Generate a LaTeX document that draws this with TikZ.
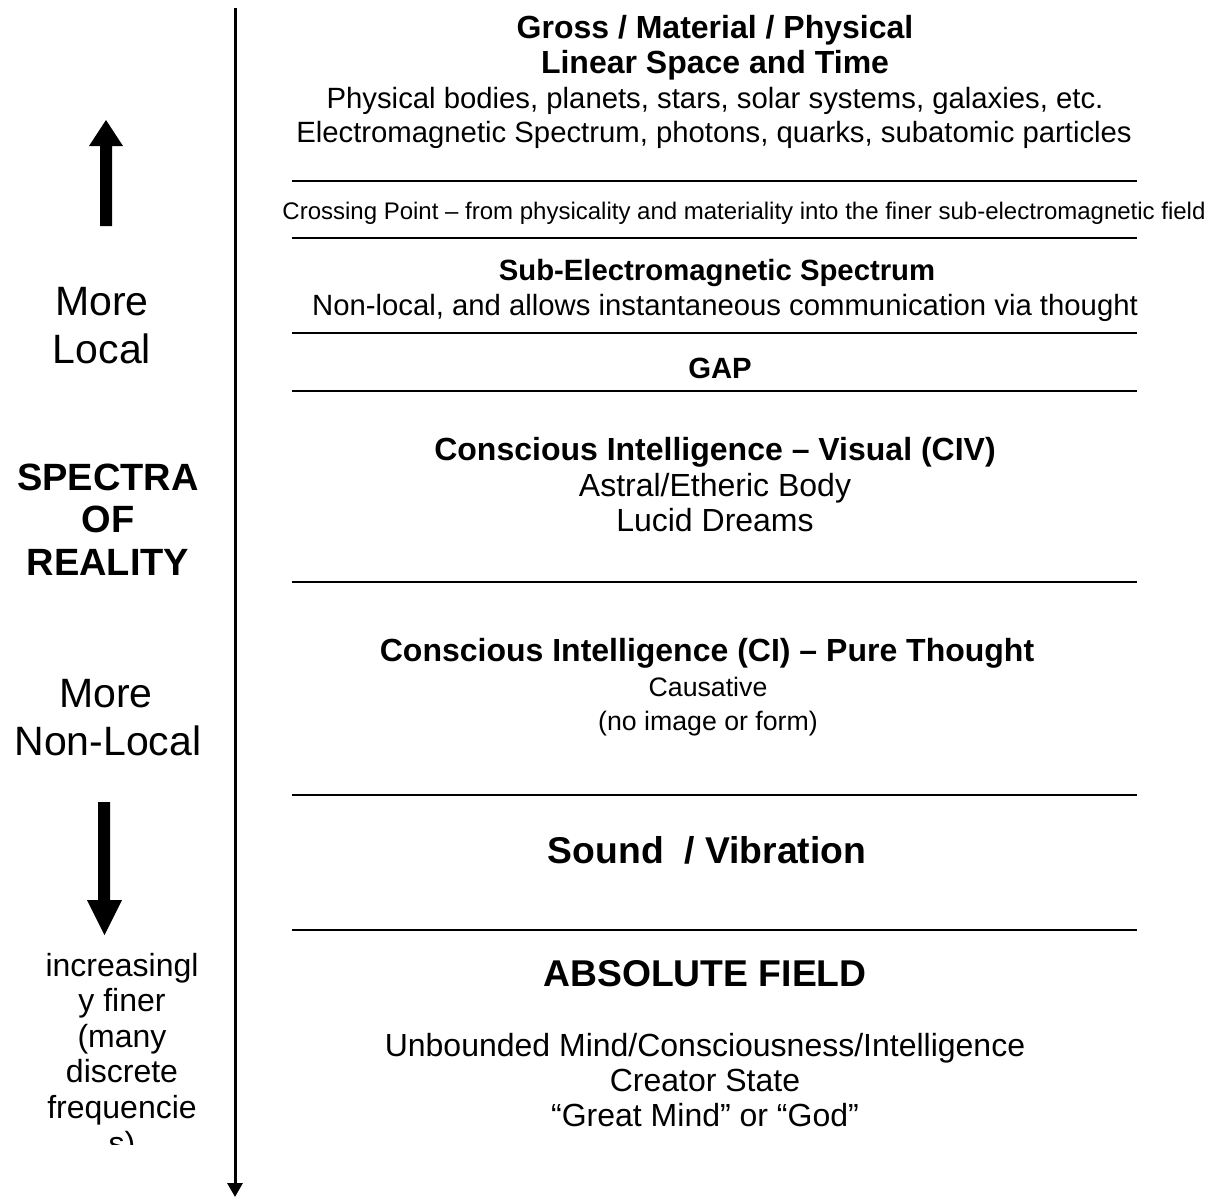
\documentclass[tikz,border=0pt]{standalone}
\usepackage{fontspec}
\setmainfont{Liberation Sans}
\usetikzlibrary{arrows.meta}
\tikzset{
  txt/.style={inner sep=0pt, anchor=base, font=\fontsize{32}{36}\selectfont},
  txtb/.style={txt, font=\fontsize{32}{36}\selectfont\bfseries},
  txtmid/.style={txt, font=\fontsize{29.3}{33}\selectfont},
  txtmidb/.style={txt, font=\fontsize{29.3}{33}\selectfont\bfseries},
  txtsmall/.style={txt, font=\fontsize{26.7}{30}\selectfont},
  txtcross/.style={txt, font=\fontsize{24}{27}\selectfont},
  txtbig/.style={txt, font=\fontsize{37.3}{42}\selectfont\bfseries},
  side/.style={txt, font=\fontsize{41}{47}\selectfont},
  sideb/.style={txt, font=\fontsize{38}{42}\selectfont\bfseries},
  sidesmall/.style={txt, font=\fontsize{32}{36}\selectfont},
  sep/.style={line width=2pt},
  axis/.style={line width=3pt, -{Triangle[width=15pt,length=14pt]}},
  fatarrow/.style={fill=black, draw=none}
}
\begin{document}
\begin{tikzpicture}[x=1pt, y=-1pt]
\useasboundingbox (0,0) rectangle (1209,1197);
% axis
\coordinate (axtop) at (235,8);
\coordinate (axbot) at (235,1197);
\draw[axis] (axtop) -- (axbot);
% separators
\foreach \yy/\nm in {181/s1,238/s2,333/s3,391/s4,582/s5,795/s6,930/s7}{
  \coordinate (\nm L) at (292,\yy);
  \coordinate (\nm R) at (1137,\yy);
  \draw[sep] (\nm L) -- (\nm R);
}
% fat arrows
\fill[fatarrow] (100,226) -- (112,226) -- (112,146) -- (123,146) -- (106,120) -- (89,146) -- (100,146) -- cycle;
\fill[fatarrow] (98,802) -- (110,802) -- (110,900) -- (122,900) -- (104.5,935) -- (87,900) -- (98,900) -- cycle;
% right texts
\node[txtb] (t1) at (715,38) {Gross / Material / Physical};
\node[txtb] (t2) at (715,73) {Linear Space and Time};
\node[txtmid] (t3) at (715,108) {Physical bodies, planets, stars, solar systems, galaxies, etc.};
\node[txtmid] (t4) at (714,142) {Electromagnetic Spectrum, photons, quarks, subatomic particles};
\node[txtcross] (t5) at (744,219) {Crossing Point – from physicality and materiality into the finer sub-electromagnetic field};
\node[txtmidb] (t6) at (717,280) {Sub-Electromagnetic Spectrum};
\node[txtmid] (t7) at (725,315) {Non-local, and allows instantaneous communication via thought};
\node[txtmidb] (t8) at (720,378) {GAP};
\node[txtb] (t9) at (715,460) {Conscious Intelligence – Visual (CIV)};
\node[txt] (t10) at (715,496) {Astral/Etheric Body};
\node[txt] (t11) at (715,531) {Lucid Dreams};
\node[txtb] (t12) at (707,661) {Conscious Intelligence (CI) – Pure Thought};
\node[txtsmall] (t13) at (708,696) {Causative};
\node[txtsmall] (t14) at (708,730) {(no image or form)};
\node[txtbig] (t15) at (707,863) {Sound\ \ / Vibration};
\node[txtbig] (t16) at (705,986) {ABSOLUTE FIELD};
\node[txt] (t17) at (705,1056) {Unbounded Mind/Consciousness/Intelligence};
\node[txt] (t18) at (705,1091) {Creator State};
\node[txt] (t19) at (705,1126) {“Great Mind” or “God”};
% left texts
\node[side] (l1) at (102,315) {More};
\node[side] (l2) at (102,363) {Local};
\node[sideb] (l3) at (108,490) {SPECTRA};
\node[sideb] (l4) at (108,532) {OF};
\node[sideb] (l5) at (108,575) {REALITY};
\node[side] (l6) at (106,707) {More};
\node[side] (l7) at (108,755) {Non-Local};
\begin{scope}
\clip (0,900) rectangle (234,1144);
\node[sidesmall] (l8) at (122,976) {increasingl};
\node[sidesmall] (l9) at (122,1011) {y finer};
\node[sidesmall] (l10) at (122,1047) {(many};
\node[sidesmall] (l11) at (122,1082) {discrete};
\node[sidesmall] (l12) at (122,1118) {frequencie};
\node[sidesmall] (l13) at (122,1154) {s)};
\end{scope}
\end{tikzpicture}
\end{document}
